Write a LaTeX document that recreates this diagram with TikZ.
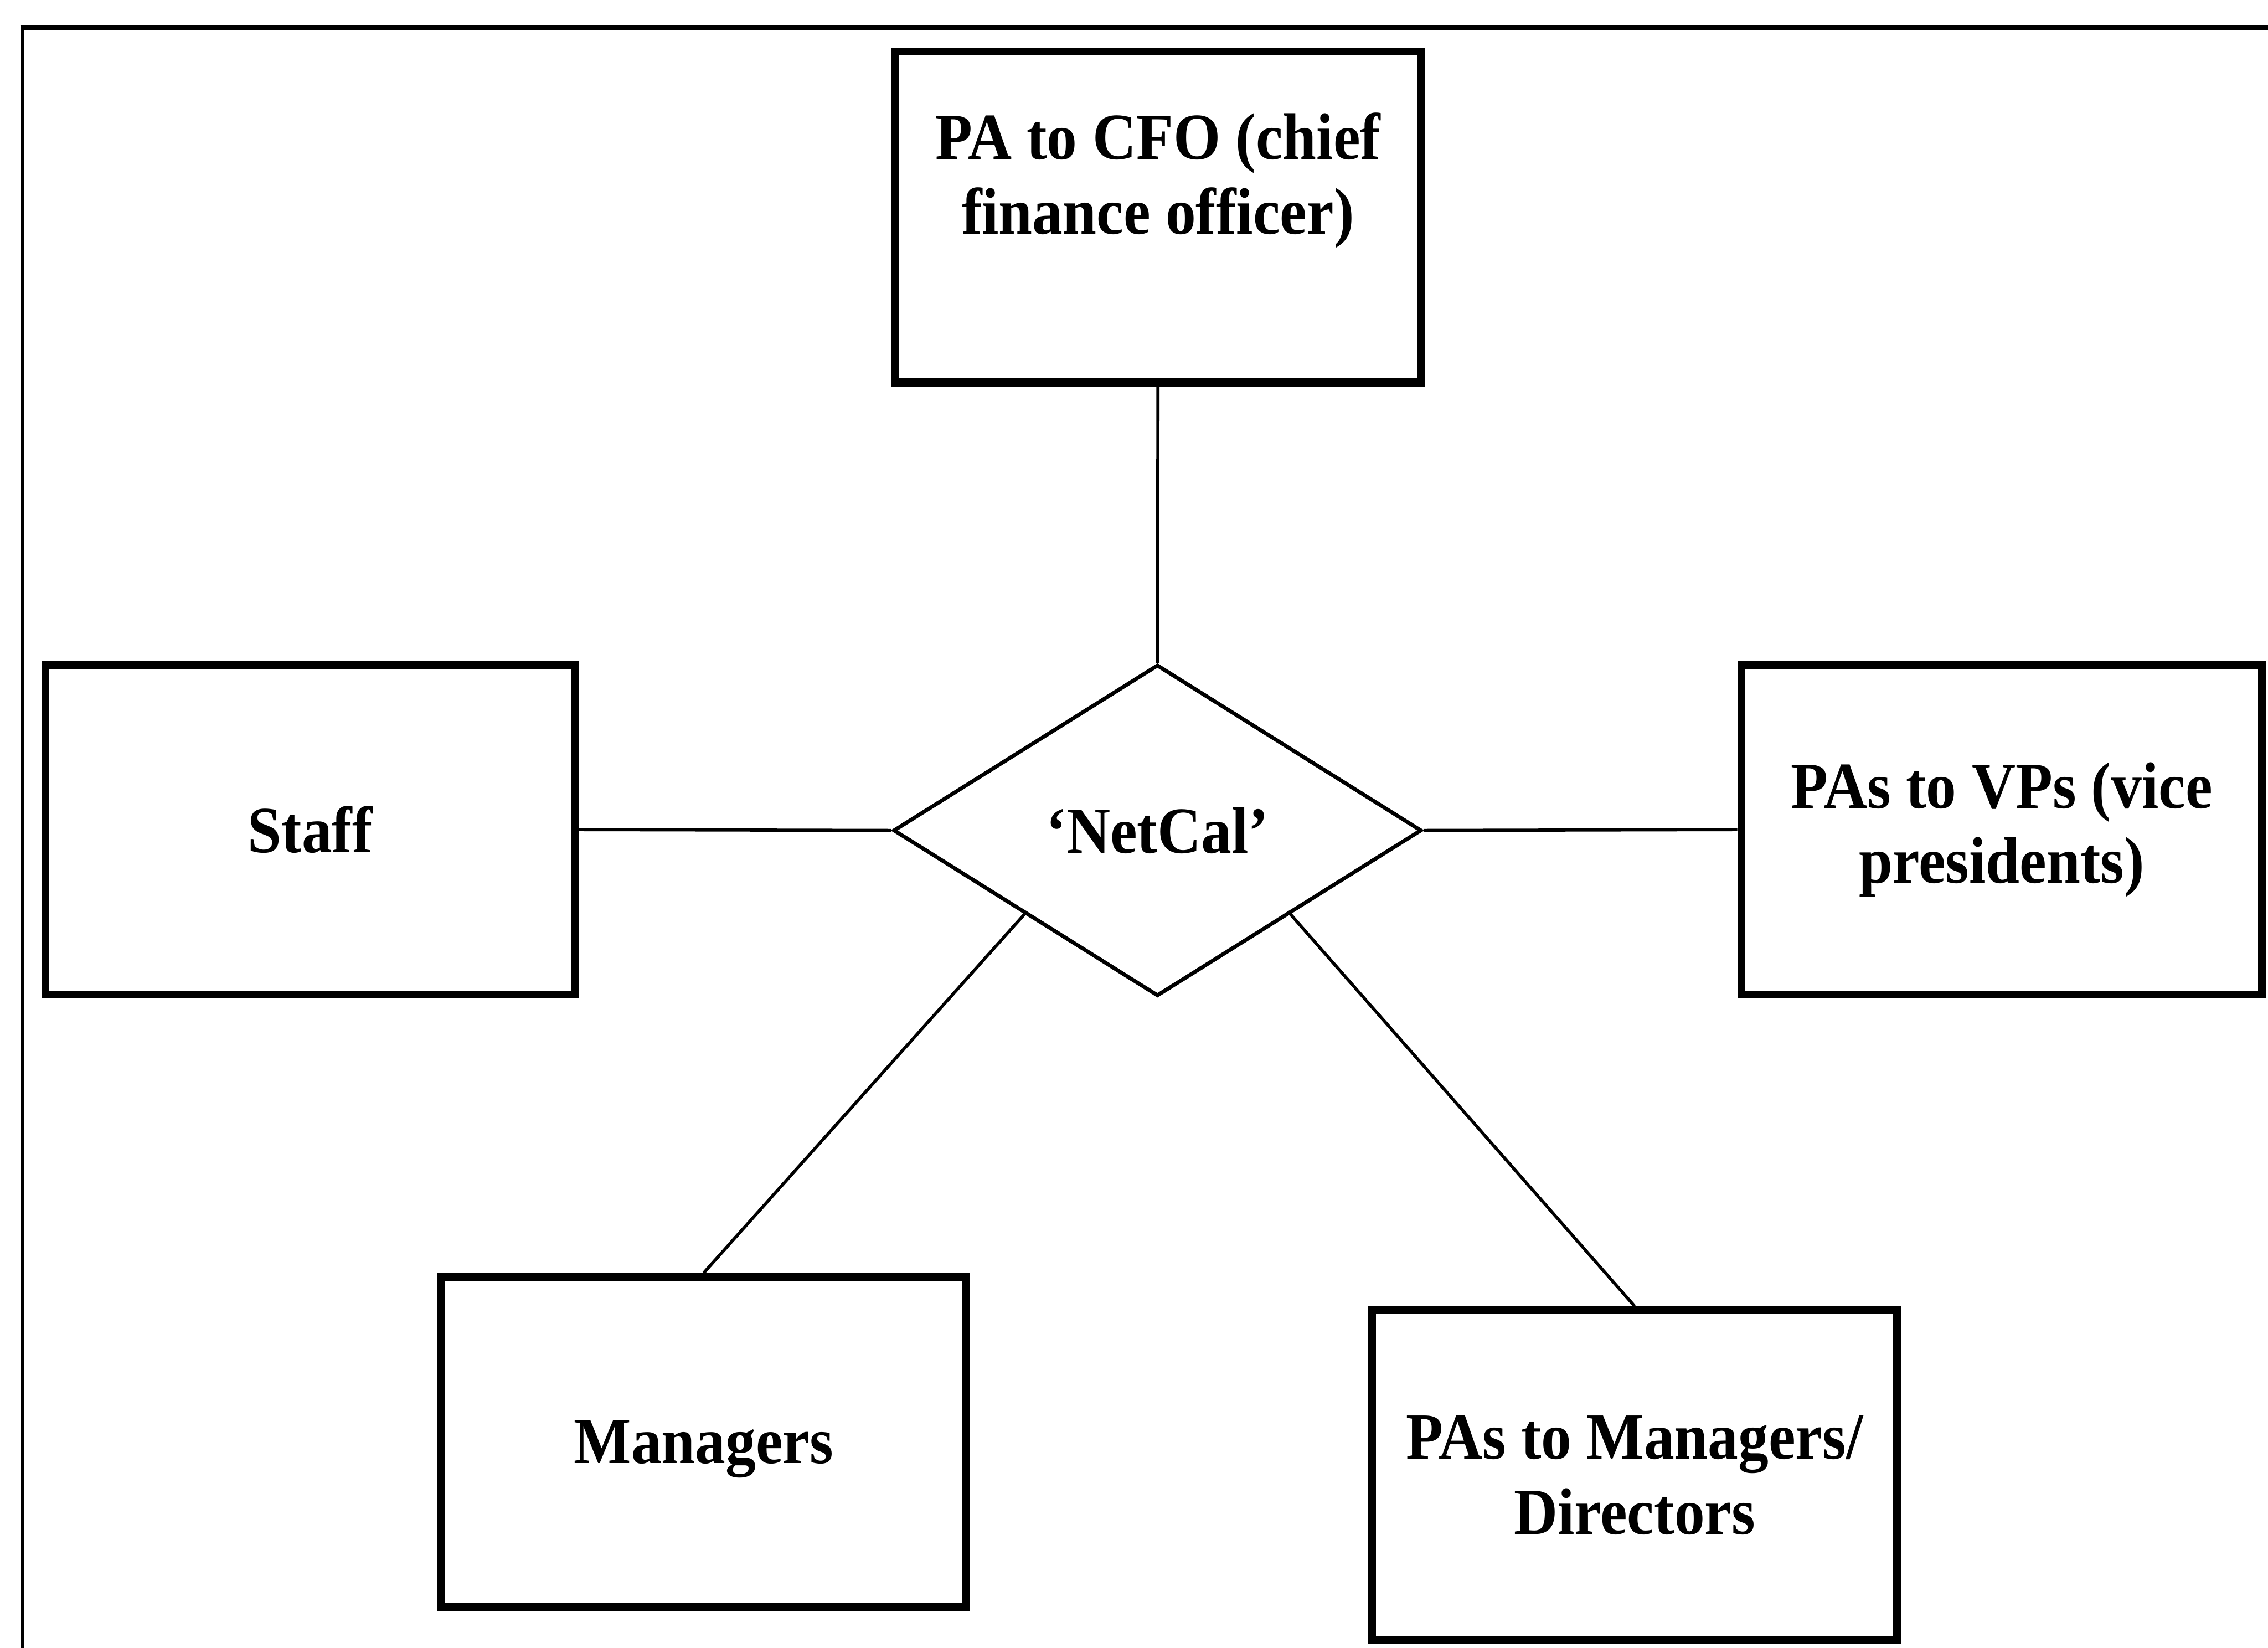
\documentclass[tikz,border=0pt]{standalone}
\usepackage{fontspec}
\setmainfont{Liberation Serif}[FakeStretch=0.92]
\usetikzlibrary{shapes.geometric}
\tikzset{
  entbox/.style={draw, line width=4.4pt, inner sep=0pt, minimum width=10.08cm, minimum height=6.33cm,
    font=\fontsize{36}{41}\selectfont\bfseries, align=center},
  lbl/.style={font=\fontsize{36}{41}\selectfont\bfseries, align=center, inner sep=0pt},
  rel/.style={draw, diamond, line width=2.1pt, inner sep=0pt, minimum width=10.14cm, minimum height=6.36cm,
    font=\fontsize{36}{41}\selectfont\bfseries},
  conn/.style={line width=1.7pt}
}
\begin{document}
\begin{tikzpicture}
\useasboundingbox (0,0) rectangle (43.54,-31.63);
% outer frame (only top and left edges fall inside the picture)
\draw[line width=1.6pt] (0.43,-31.63) -- (0.43,-0.53);
\draw[line width=2.4pt] (0.40,-0.53) -- (43.54,-0.53);

\node[rel] (net) at (22.22,-15.94) {‘NetCal’};

\node[entbox, minimum width=10.10cm, minimum height=6.35cm] (cfo) at (22.23,-4.165) {};
\node[lbl] (cfotext) at ([yshift=0.70cm]cfo.center) {PA to CFO (chief\\finance officer)};

\node[entbox, minimum width=10.17cm] (staff) at (5.955,-15.925) {Staff};
\node[entbox, minimum width=10.0cm] (vps) at (38.43,-15.925) {PAs to VPs (vice\\presidents)};
\node[entbox, text depth=0pt] (mgr) at (13.51,-27.675) {Managers};
\node[entbox] (pam) at (31.38,-28.315) {PAs to Managers/\\Directors};

\draw[conn] (cfo.south) -- (net.north);
\draw[conn] (staff.east) -- (net.west);
\draw[conn] (vps.west) -- (net.east);
\draw[conn] (mgr.north) -- (net.south west);
\draw[conn] (pam.north) -- (net.south east);
\end{tikzpicture}
\end{document}
